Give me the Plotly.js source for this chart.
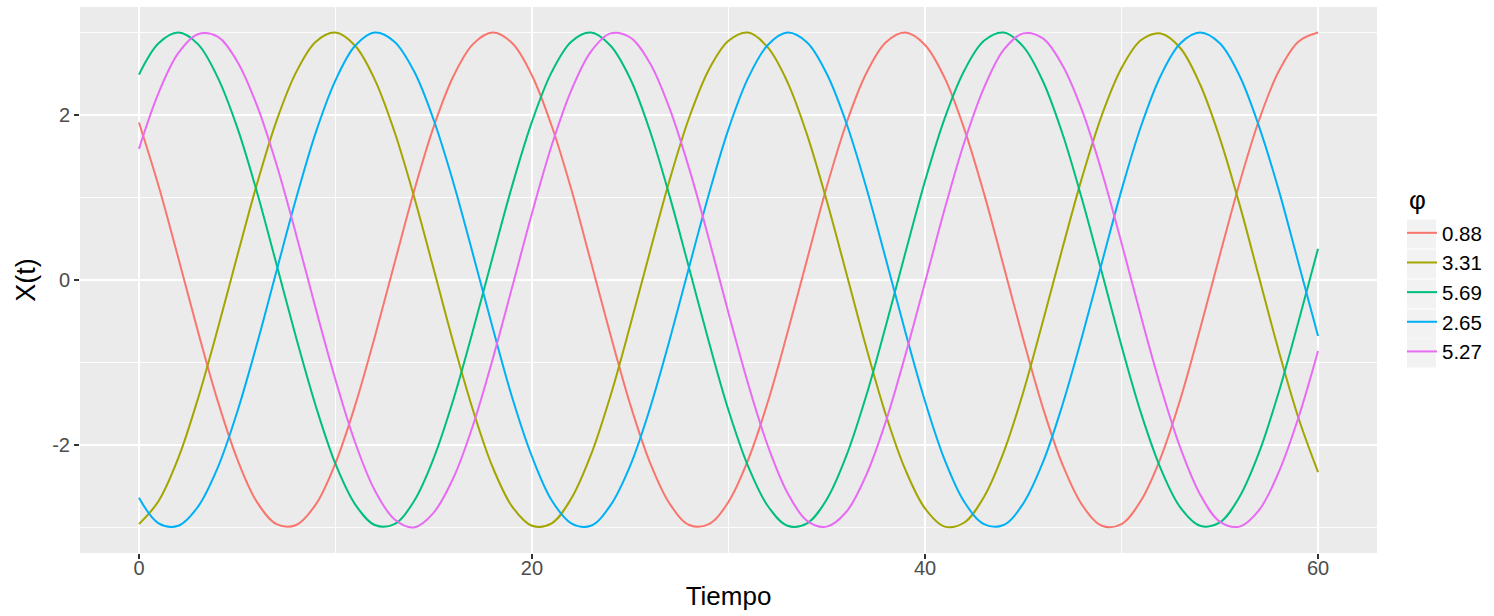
<!DOCTYPE html>
<html>
<head>
<meta charset="utf-8">
<script src="https://cdn.plot.ly/plotly-3.0.1.min.js"></script>
<style>
  html, body { margin: 0; padding: 0; background: #ffffff; }
  #chart { width: 1494px; height: 616px; }
</style>
</head>
<body>
<div id="chart"></div>
<script>
// Time axis (Tiempo)
const tiempo = [0,1,2,3,4,5,6,7,8,9,10,11,12,13,14,15,16,17,18,19,20,
  21,22,23,24,25,26,27,28,29,30,31,32,33,34,35,36,37,38,39,40,
  41,42,43,44,45,46,47,48,49,50,51,52,53,54,55,56,57,58,59,60];

// X(t) values, one array per phase φ
const x_phi_088 = [1.91,1.14,0.27,-0.62,-1.46,-2.17,-2.69,-2.96,-2.97,-2.72,-2.22,-1.52,-0.69,0.20,1.08,1.86,2.47,2.86,3.00,2.87,2.48,
  1.87,1.10,0.22,-0.67,-1.51,-2.21,-2.71,-2.97,-2.96,-2.69,-2.18,-1.48,-0.64,0.25,1.13,1.90,2.50,2.88,3.00,2.85,
  2.45,1.83,1.05,0.17,-0.72,-1.55,-2.24,-2.73,-2.98,-2.96,-2.67,-2.15,-1.44,-0.59,0.30,1.17,1.94,2.53,2.89,3.00];
const x_phi_331 = [-2.96,-2.68,-2.16,-1.44,-0.60,0.29,1.16,1.93,2.52,2.89,3.00,2.84,2.43,1.80,1.01,0.13,-0.76,-1.58,-2.27,-2.75,-2.98,
  -2.95,-2.65,-2.12,-1.40,-0.55,0.34,1.21,1.97,2.55,2.90,3.00,2.82,2.40,1.76,0.96,0.08,-0.81,-1.63,-2.30,-2.77,
  -2.99,-2.94,-2.63,-2.09,-1.36,-0.50,0.39,1.25,2.00,2.57,2.91,2.99,2.81,2.37,1.72,0.92,0.03,-0.86,-1.67,-2.33];
const x_phi_569 = [2.49,2.87,3.00,2.86,2.46,1.85,1.07,0.19,-0.70,-1.53,-2.23,-2.72,-2.97,-2.96,-2.68,-2.16,-1.45,-0.61,0.28,1.15,1.92,
  2.52,2.89,3.00,2.84,2.44,1.81,1.02,0.14,-0.75,-1.58,-2.26,-2.74,-2.98,-2.95,-2.66,-2.13,-1.41,-0.56,0.33,1.20,
  1.96,2.54,2.90,3.00,2.83,2.41,1.77,0.97,0.09,-0.80,-1.62,-2.29,-2.76,-2.98,-2.94,-2.63,-2.09,-1.36,-0.51,0.38];
const x_phi_265 = [-2.64,-2.95,-2.98,-2.75,-2.28,-1.60,-0.78,0.11,0.99,1.79,2.42,2.84,3.00,2.89,2.53,1.94,1.18,0.31,-0.58,-1.43,-2.14,
  -2.67,-2.95,-2.98,-2.73,-2.25,-1.56,-0.73,0.16,1.04,1.83,2.45,2.85,3.00,2.88,2.50,1.90,1.13,0.26,-0.63,-1.47,
  -2.18,-2.69,-2.96,-2.97,-2.71,-2.21,-1.51,-0.68,0.21,1.09,1.87,2.48,2.87,3.00,2.87,2.48,1.86,1.09,0.21,-0.68];
const x_phi_527 = [1.59,2.27,2.75,2.98,2.95,2.65,2.12,1.40,0.55,-0.35,-1.21,-1.97,-2.55,-2.90,-3.00,-2.82,-2.40,-1.76,-0.96,-0.08,0.81,
  1.63,2.30,2.77,2.99,2.94,2.63,2.08,1.35,0.50,-0.40,-1.26,-2.01,-2.58,-2.92,-2.99,-2.81,-2.37,-1.72,-0.91,-0.03,
  0.86,1.67,2.33,2.79,2.99,2.93,2.60,2.05,1.31,0.45,-0.45,-1.30,-2.04,-2.60,-2.93,-2.99,-2.79,-2.33,-1.67,-0.86];

const phiLabels = ['0.88','3.31','5.69','2.65','5.27'];
const seriesValues = [x_phi_088, x_phi_331, x_phi_569, x_phi_265, x_phi_527];
const seriesColors = ['#F8766D','#A3A500','#00BF7D','#00B0F6','#E76BF3'];

const xTicks = [0,20,40,60];
const yTicks = [-2,0,2];

const FONT = 'Liberation Sans, Arial, Helvetica, sans-serif';

const traces = phiLabels.map((lab, i) => ({
  type: 'scatter',
  mode: 'lines',
  x: tiempo,
  y: seriesValues[i],
  name: lab,
  line: { color: seriesColors[i], width: 2, shape: 'spline', smoothing: 1 },
  hoverinfo: 'skip'
}));

// plot area in px (for converting legend decoration to paper coords)
const PL = 80, PR = 1377, PT = 7, PB = 553;
const px2x = p => (p - PL) / (PR - PL);
const px2y = p => (PB - p) / (PB - PT);

// grey legend key backgrounds (ggplot style)
const keyCenters = [234, 264, 294, 324, 353];
const keyShapes = keyCenters.map(c => ({
  type: 'rect', xref: 'paper', yref: 'paper', layer: 'below',
  x0: px2x(1407), x1: px2x(1436), y0: px2y(c + 14.5), y1: px2y(c - 14.5),
  fillcolor: '#F2F2F2', line: { width: 0 }
}));

const layout = {
  width: 1494,
  height: 616,
  margin: { l: PL, r: 1494 - PR, t: PT, b: 616 - PB, pad: 0 },
  paper_bgcolor: '#ffffff',
  plot_bgcolor: '#EBEBEB',
  font: { family: FONT, color: '#4D4D4D' },
  showlegend: true,
  shapes: keyShapes,
  annotations: [{
    text: 'φ', xref: 'paper', yref: 'paper', x: px2x(1407), y: px2y(200),
    xanchor: 'left', yanchor: 'middle', showarrow: false,
    font: { family: FONT, size: 26, color: '#000000' }
  }],
  xaxis: {
    range: [-3, 63],
    tickmode: 'array',
    tickvals: xTicks,
    ticktext: xTicks.map(String),
    showgrid: true,
    gridcolor: '#FFFFFF',
    gridwidth: 1.8,
    zeroline: false,
    showline: false,
    ticks: 'outside',
    ticklen: 5,
    tickwidth: 1.5,
    tickcolor: '#333333',
    ticklabelstandoff: -8,
    tickfont: { family: FONT, size: 20, color: '#4D4D4D' },
    minor: { tickmode: 'array', tickvals: [10, 30, 50], showgrid: true, gridcolor: '#FFFFFF', gridwidth: 0.9, ticks: '' },
    title: { text: 'Tiempo', font: { family: FONT, size: 26, color: '#000000' }, standoff: 8 },
    automargin: false,
    fixedrange: true
  },
  yaxis: {
    range: [-3.31, 3.31],
    tickmode: 'array',
    tickvals: yTicks,
    ticktext: yTicks.map(String),
    showgrid: true,
    gridcolor: '#FFFFFF',
    gridwidth: 1.8,
    zeroline: false,
    showline: false,
    ticks: 'outside',
    ticklen: 5,
    tickwidth: 1.5,
    tickcolor: '#333333',
    tickfont: { family: FONT, size: 20, color: '#4D4D4D' },
    minor: { tickmode: 'array', tickvals: [-3, -1, 1, 3], showgrid: true, gridcolor: '#FFFFFF', gridwidth: 0.9, ticks: '' },
    title: { text: 'X(t)', font: { family: FONT, size: 27, color: '#000000' }, standoff: 8 },
    automargin: false,
    fixedrange: true
  },
  legend: {
    x: px2x(1402),
    xanchor: 'left',
    y: px2y(213),
    yanchor: 'top',
    bgcolor: 'rgba(0,0,0,0)',
    borderwidth: 0,
    font: { family: FONT, size: 20.5, color: '#000000' },
    itemwidth: 30,
    tracegroupgap: 0
  }
};

Plotly.newPlot('chart', traces, layout, { displayModeBar: false, staticPlot: true });
</script>
</body>
</html>
